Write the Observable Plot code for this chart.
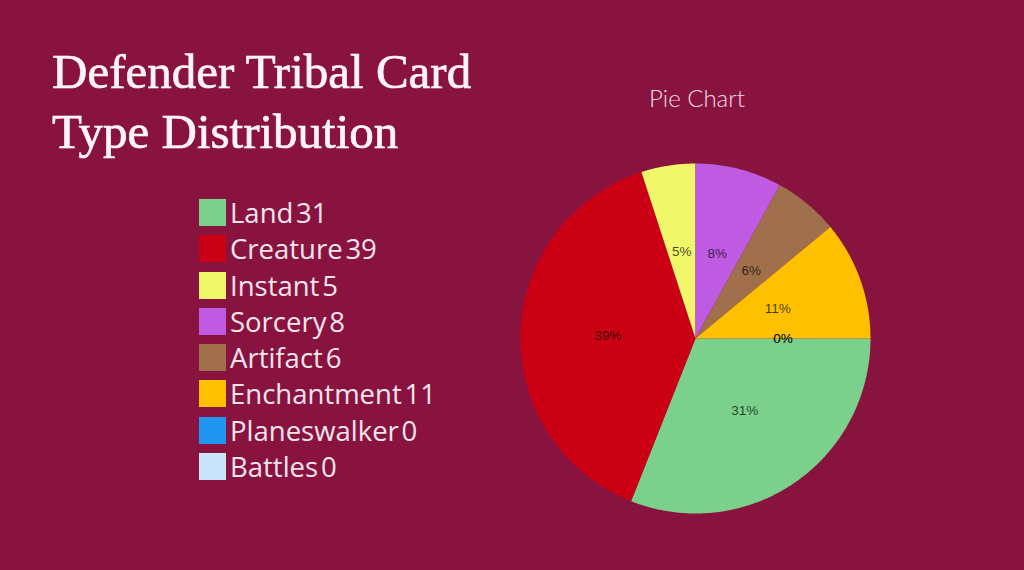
<!DOCTYPE html>
<html><head><meta charset="utf-8">
<script src="https://cdn.jsdelivr.net/npm/d3@7"></script>
<script src="https://cdn.jsdelivr.net/npm/@observablehq/plot@0.6"></script>
<style>
html,body{margin:0;padding:0;background:#89133f;}
#wrap{position:relative;width:1024px;height:570px;overflow:hidden;background:#89133f;}
#chart{position:absolute;left:0;top:0;}
#title{position:absolute;left:52px;top:42px;font-family:"Liberation Serif",serif;font-size:49px;line-height:60px;color:#fdf4f8;font-weight:normal;-webkit-text-stroke:0.7px #fdf4f8;margin:0;}
#sub{position:absolute;left:597px;width:200px;text-align:center;top:83px;font-family:Lato,sans-serif;font-weight:300;font-size:24px;color:#f3dde7;}
#legend{position:absolute;left:199px;top:199px;width:320px;}
.lg-swatch{padding-bottom:0 !important;margin-bottom:9.3px;}
.lg-swatch svg{margin-right:4px !important;border-radius:3px;}
.lg-swatch-label{font-family:"Open Sans",sans-serif;font-size:27.5px;color:#f6e4ed;line-height:27px;overflow:visible !important;text-overflow:clip !important;}
</style></head>
<body>
<div id="wrap">
  <div id="chart"></div>
  <div id="title">Defender Tribal Card<br>Type Distribution</div>
  <div id="sub">Pie Chart</div>
  <div id="legend"></div>
</div>
<script>
const types = ["Land","Creature","Instant","Sorcery","Artifact","Enchantment","Planeswalker","Battles"];
const counts = [31,39,5,8,6,11,0,0];
const colors = ["#7bd08b","#cc0015","#f1f76b","#bf5be3","#a0704c","#ffc000","#2196f0","#c8e4f8"];

const total = d3.sum(counts);
const arcs = d3.pie().sort(null).startAngle(Math.PI/2).endAngle(Math.PI/2 + 2*Math.PI)(counts);

const polys = [];
arcs.forEach((a, i) => {
  const span = a.endAngle - a.startAngle;
  if (span <= 0) return;
  polys.push({type: types[i], x: 0, y: 0});
  const n = Math.max(2, Math.ceil(span / 0.01));
  for (let k = 0; k <= n; k++) {
    const t = a.startAngle + span * k / n;
    polys.push({type: types[i], x: Math.sin(t), y: -Math.cos(t)});
  }
  polys.push({type: types[i], x: 0, y: 0});
});
const labels = arcs.map((a, i) => {
  const m = (a.startAngle + a.endAngle) / 2;
  return {type: types[i], x: 0.5 * Math.sin(m), y: -0.5 * Math.cos(m), text: Math.round(counts[i] / total * 100) + "%"};
});

const R = 175, cx = 695, cy = 338, W = 1024, H = 570;
const chart = Plot.plot({
  width: W, height: H, margin: 0,
  style: {background: "transparent"},
  x: {domain: [-cx / R, (W - cx) / R], range: [0, W], axis: null},
  y: {domain: [-cy / R, (H - cy) / R], range: [0, H], axis: null},
  color: {domain: types, range: colors},
  marks: [
    Plot.line(polys, {x: "x", y: "y", z: "type", fill: "type", stroke: "none"}),
    Plot.text(labels, {x: "x", y: "y", text: "text", fill: "#000", fillOpacity: 0.72, fontSize: 13.5, fontFamily: "Liberation Sans, Arial, sans-serif"})
  ]
});
document.getElementById("chart").appendChild(chart);

const countOf = new Map(types.map((t, i) => [t, counts[i]]));
const legend = Plot.legend({
  color: {type: "ordinal", domain: types, range: colors},
  legend: "swatches",
  columns: 1,
  swatchSize: 27,
  className: "lg",
  tickFormat: d => d + "\u200a" + countOf.get(d)
});
document.getElementById("legend").appendChild(legend);
</script>
</body></html>
